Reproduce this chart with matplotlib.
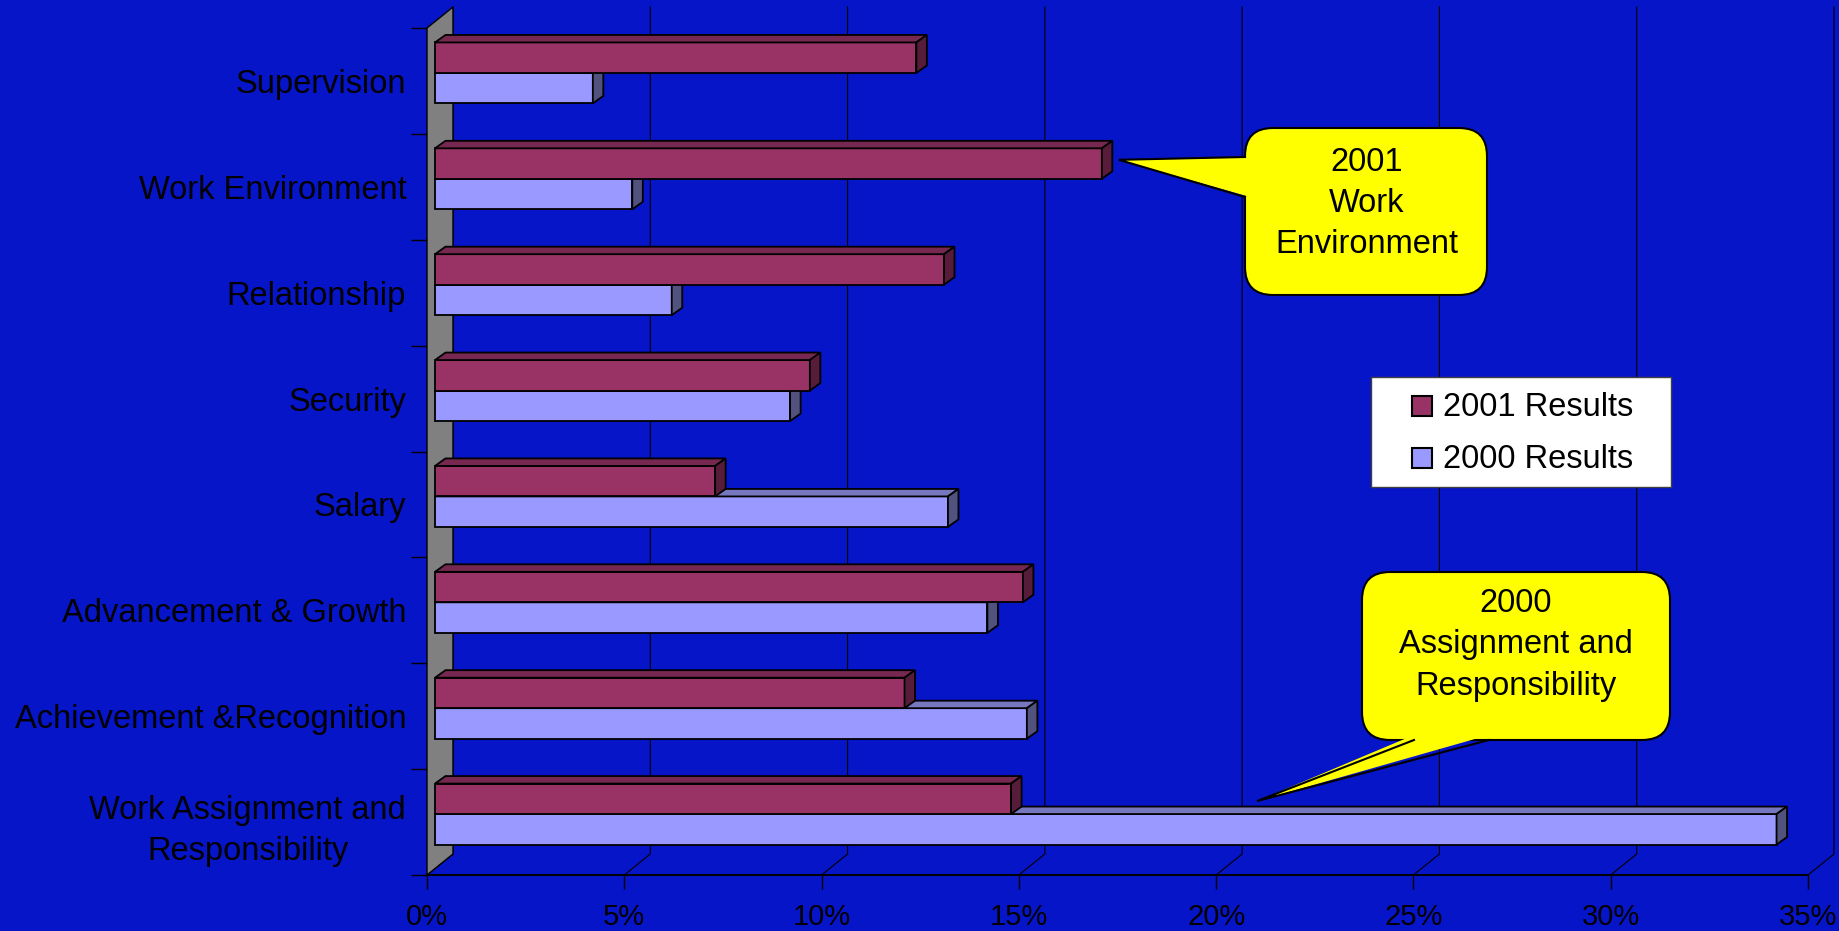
import numpy as np
import matplotlib
matplotlib.use('Agg')
from matplotlib import pyplot as plt
from matplotlib.patches import Polygon, FancyBboxPatch, Rectangle

plt.rcParams['font.family'] = ['Liberation Sans', 'DejaVu Sans']

categories = ['Supervision', 'Work Environment', 'Relationship', 'Security', 'Salary',
              'Advancement & Growth', 'Achievement &Recognition',
              'Work Assignment and\nResponsibility']
results_2001 = [12.2, 16.9, 12.9, 9.5, 7.1, 14.9, 11.9, 14.6]
results_2000 = [4.0, 5.0, 6.0, 9.0, 13.0, 14.0, 15.0, 34.0]
xticks = [0, 5, 10, 15, 20, 25, 30, 35]
series_names = ['2001 Results', '2000 Results']

W, H = 1839, 931
BG = '#0715C8'
C2001 = ('#993366', '#772850', '#561c3a')   # front, top, side
C2000 = ('#9999FF', '#7777C0', '#52527F')

fig = plt.figure(figsize=(W / 100, H / 100), dpi=100, facecolor=BG)

# front plane of the 3d box
ax = fig.add_axes([427 / W, 1 - 875 / H, (1808 - 427) / W, (875 - 28) / H])
n = len(categories)
ax.set_xlim(0, 35)
ax.set_ylim(n - 0.5, -0.5)
ax.patch.set_alpha(0)

xs = (1808 - 427) / 35.0   # px per percent
ys = (875 - 28) / float(n)  # px per category


def depth(dx, dy):
    # pixel shift back into the box, as data units (screen up = -y)
    return dx / xs, -dy / ys


wx, wy = depth(26, 21)     # back wall
bx, by = depth(8, 8)       # front face of the bars
dx, dy = depth(10.5, 7.5)  # bar thickness
bh = 30.5 / ys
top, bot = -0.5, n - 0.5

# floor lines + back wall gridlines
for t in xticks:
    ax.plot([t, t + wx, t + wx], [bot, bot + wy, top + wy], color='black', lw=0.8,
            zorder=1, clip_on=False)

# grey side wall
ax.add_patch(Polygon([(0, top), (wx, top + wy), (wx, bot + wy), (0, bot)], closed=True,
                     fc='#808080', ec='black', lw=1, zorder=2, clip_on=False))

y = np.arange(n)


def bars3d(vals, y0, cols, z):
    ax.barh(y0, vals, height=bh, left=bx, align='edge', color=cols[0],
            edgecolor='black', lw=1.3, zorder=z)
    for yy, v in zip(y0, vals):
        x1 = bx + v
        ax.add_patch(Polygon([(bx, yy), (x1, yy), (x1 + dx, yy + dy), (bx + dx, yy + dy)],
                             closed=True, fc=cols[1], ec='black', lw=1.3, zorder=z))
        ax.add_patch(Polygon([(x1, yy), (x1 + dx, yy + dy), (x1 + dx, yy + bh + dy), (x1, yy + bh)],
                             closed=True, fc=cols[2], ec='black', lw=1.3, zorder=z))


bars3d(results_2000, y + by, C2000, 3)
bars3d(results_2001, y - bh + by, C2001, 4)

ax.set_xticks(xticks)
ax.set_xticklabels(['%d%%' % t for t in xticks], fontsize=21)
ax.tick_params(axis='x', length=10, width=1, pad=10, colors='black')
ax.set_yticks(y)
ax.set_yticklabels(categories, fontsize=23.5)
for lab in ax.get_yticklabels():
    lab.set_multialignment('center')
    lab.set_linespacing(1.42)
ax.tick_params(axis='y', which='major', length=0, pad=15)
ax.set_yticks(np.arange(n + 1) - 0.5, minor=True)
ax.tick_params(axis='y', which='minor', length=11.5, width=1)
for s in ['top', 'right', 'left']:
    ax.spines[s].set_visible(False)
ax.spines['bottom'].set_linewidth(1.4)

# overlay in pixel units for the legend and callouts
ov = fig.add_axes([0, 0, 1, 1], zorder=5)
ov.set_xlim(0, W)
ov.set_ylim(H, 0)
ov.axis('off')
ov.patch.set_alpha(0)


def to_px(x, yv):
    return ov.transData.inverted().transform(ax.transData.transform((x, yv)))


def callout(box, text, tc, base, inset, tip):
    x0, y0, x1, y1 = box
    ov.add_patch(FancyBboxPatch((x0, y0), x1 - x0, y1 - y0,
                                boxstyle='round,pad=0,rounding_size=28',
                                fc='#FFFF00', ec='black', lw=1.5, zorder=5))
    ov.add_patch(Polygon([inset[0], tip, inset[1]], closed=True, fc='#FFFF00', ec='none', zorder=6))
    ov.plot([base[0][0], tip[0], base[1][0]], [base[0][1], tip[1], base[1][1]],
            color='black', lw=1.5, zorder=7, solid_joinstyle='miter')
    ov.text(tc[0], tc[1], text, ha='center', va='center', fontsize=23.5,
            linespacing=1.42, zorder=8)


tip1 = to_px(results_2001[1], 1) + np.array([25, -27])
callout((1245, 128, 1487, 295), '2001\nWork\nEnvironment', (1367, 203.5),
        [(1245, 157), (1245, 197)], [(1250, 157), (1250, 197)], tip1)

tip2 = to_px(21, 7) + np.array([1.5, -21])
callout((1362, 572, 1670, 740), '2000\nAssignment and\nResponsibility', (1516, 645),
        [(1414, 740), (1489, 740)], [(1414, 735), (1489, 735)], tip2)

# legend
ov.add_patch(Rectangle((1371, 377), 300, 110, fc='white', ec='#404040', lw=1, zorder=5))
for k, (name, col) in enumerate(zip(series_names, [C2001[0], C2000[0]])):
    yc = 406 + 52 * k
    ov.add_patch(Rectangle((1412, yc - 10), 20, 20, fc=col, ec='black', lw=1.5, zorder=6))
    ov.text(1443, yc + 1, name, ha='left', va='center', fontsize=23.5, zorder=6)

fig.savefig('out.png', dpi=100, facecolor=BG)
